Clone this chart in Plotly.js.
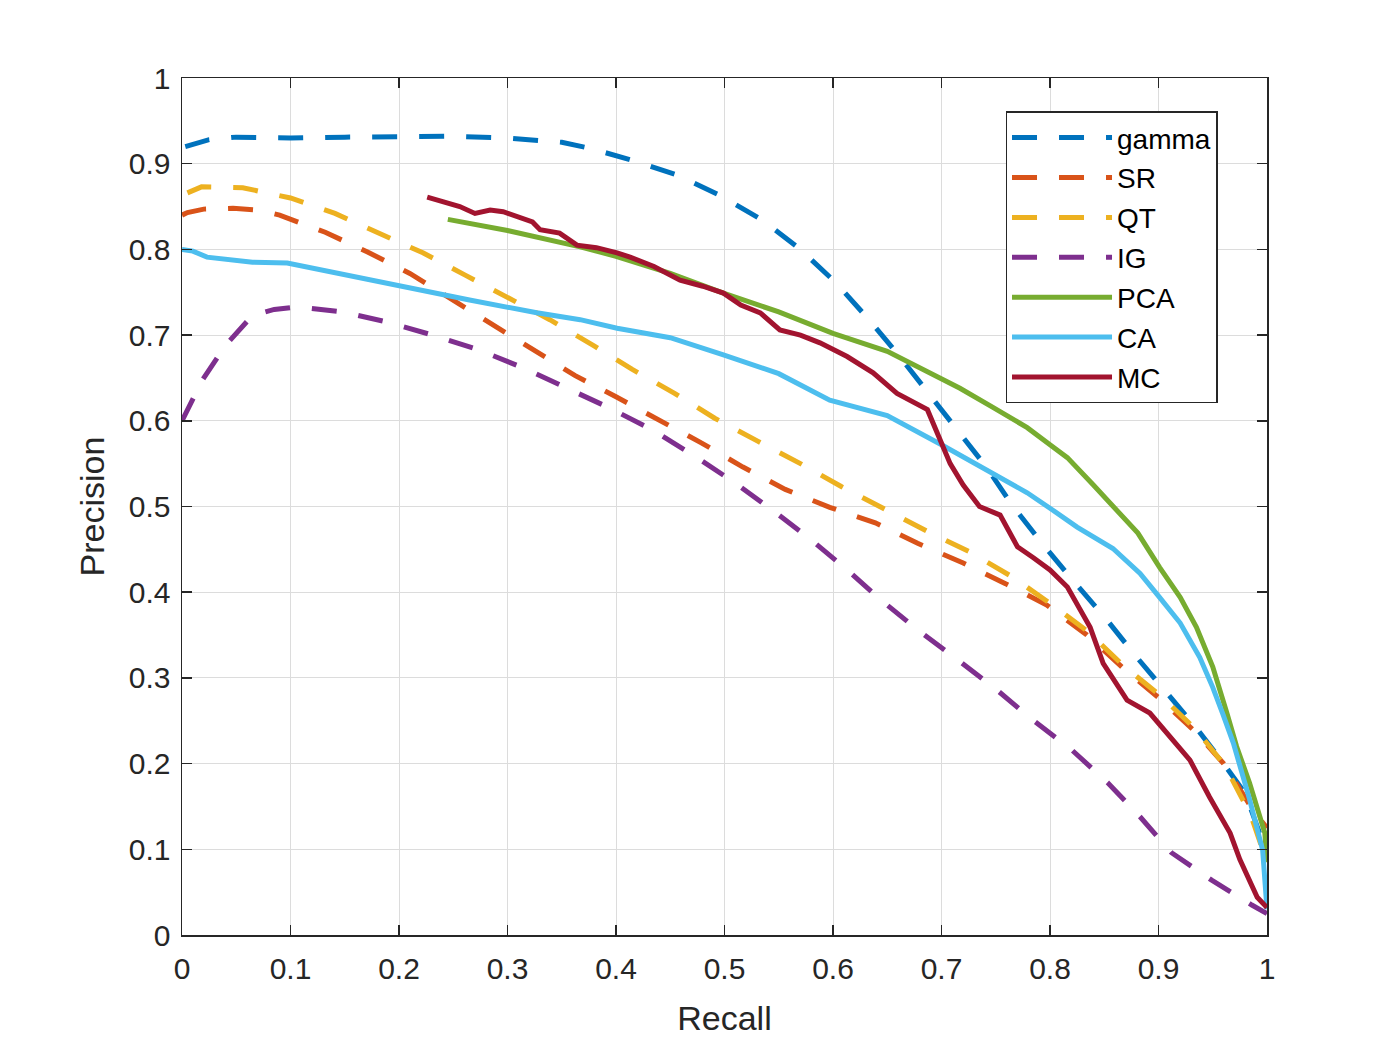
<!DOCTYPE html>
<html>
<head>
<meta charset="utf-8">
<script src="https://cdn.plot.ly/plotly-3.0.1.min.js"></script>
<style>html,body{margin:0;padding:0;background:#fff;}#chart{width:1400px;height:1050px;}</style>
</head>
<body>
<div id="chart"></div>
<script>
// ---- data ----
const seriesNames = ["gamma", "SR", "QT", "IG", "PCA", "CA", "MC"];

const gammaX = [0.003,0.012,0.025,0.05,0.1,0.15,0.2,0.25,0.3,0.35,0.376,0.415,0.456,0.496,0.535,0.568,0.602,0.631,0.659,0.687,0.714,0.742,0.766,0.794,0.821,0.851,0.878,0.906,0.934,0.96,0.98,1.0];
const gammaY = [0.92,0.923,0.928,0.931,0.930,0.931,0.931,0.932,0.930,0.925,0.918,0.904,0.887,0.863,0.834,0.802,0.762,0.721,0.679,0.634,0.589,0.545,0.50,0.455,0.414,0.37,0.327,0.286,0.243,0.2,0.165,0.095];

const srX = [0,0.005,0.02,0.047,0.07,0.09,0.132,0.171,0.21,0.25,0.286,0.323,0.362,0.4,0.44,0.479,0.517,0.556,0.597,0.639,0.678,0.72,0.759,0.797,0.834,0.867,0.9,0.934,0.96,0.989,1.0];
const srY = [0.84,0.843,0.847,0.848,0.846,0.84,0.82,0.797,0.772,0.741,0.712,0.683,0.653,0.628,0.601,0.574,0.546,0.52,0.499,0.481,0.457,0.434,0.41,0.385,0.35,0.312,0.277,0.237,0.2,0.142,0.125];

const qtX = [0.005,0.018,0.056,0.1,0.141,0.181,0.222,0.261,0.3,0.339,0.379,0.415,0.454,0.491,0.531,0.57,0.608,0.648,0.687,0.726,0.765,0.8,0.835,0.867,0.903,0.935,0.961,0.985,1.0];
const qtY = [0.866,0.873,0.872,0.86,0.842,0.819,0.796,0.77,0.744,0.718,0.688,0.66,0.632,0.603,0.576,0.55,0.523,0.496,0.471,0.447,0.418,0.387,0.354,0.315,0.278,0.239,0.198,0.14,0.085];

const igX = [0,0.005,0.019,0.04,0.065,0.085,0.107,0.148,0.19,0.231,0.273,0.314,0.355,0.394,0.434,0.471,0.508,0.544,0.579,0.613,0.646,0.68,0.715,0.75,0.784,0.82,0.853,0.883,0.912,0.949,0.986,1.0];
const igY = [0.6,0.613,0.648,0.688,0.723,0.73,0.733,0.727,0.715,0.7,0.683,0.662,0.638,0.615,0.589,0.56,0.529,0.496,0.462,0.426,0.389,0.354,0.321,0.287,0.251,0.216,0.178,0.138,0.096,0.064,0.035,0.025];

const pcaX = [0.245,0.3,0.367,0.4,0.45,0.499,0.55,0.6,0.65,0.7,0.717,0.747,0.779,0.8,0.816,0.84,0.862,0.881,0.901,0.92,0.935,0.95,0.963,0.972,0.984,0.998,1.0];
const pcaY = [0.835,0.822,0.803,0.792,0.772,0.749,0.727,0.702,0.681,0.648,0.638,0.616,0.592,0.572,0.557,0.525,0.496,0.469,0.429,0.394,0.359,0.313,0.259,0.22,0.177,0.119,0.085];

const caX = [0,0.01,0.023,0.065,0.097,0.143,0.204,0.265,0.327,0.367,0.401,0.45,0.499,0.55,0.597,0.65,0.7,0.717,0.747,0.779,0.8,0.825,0.858,0.883,0.901,0.92,0.938,0.95,0.959,0.969,0.984,0.996,1.0];
const caY = [0.8,0.798,0.791,0.785,0.784,0.772,0.756,0.741,0.726,0.718,0.708,0.697,0.677,0.655,0.624,0.606,0.572,0.56,0.54,0.516,0.498,0.476,0.451,0.422,0.394,0.364,0.324,0.289,0.259,0.224,0.158,0.099,0.03];

const mcX = [0.226,0.244,0.256,0.27,0.284,0.296,0.309,0.323,0.33,0.348,0.364,0.382,0.401,0.413,0.435,0.459,0.48,0.499,0.515,0.533,0.551,0.57,0.588,0.613,0.637,0.659,0.687,0.699,0.708,0.72,0.735,0.754,0.77,0.785,0.8,0.816,0.837,0.849,0.871,0.892,0.908,0.929,0.947,0.966,0.975,0.984,0.991,1.0];
const mcY = [0.861,0.854,0.85,0.842,0.846,0.844,0.838,0.832,0.823,0.819,0.805,0.802,0.796,0.791,0.78,0.764,0.757,0.749,0.735,0.726,0.706,0.7,0.691,0.675,0.656,0.632,0.613,0.578,0.55,0.525,0.5,0.49,0.453,0.44,0.426,0.406,0.359,0.317,0.274,0.259,0.236,0.204,0.161,0.119,0.088,0.064,0.044,0.032];

const xTickVals = [0,0.1,0.2,0.3,0.4,0.5,0.6,0.7,0.8,0.9,1];
const xTickText = ["0","0.1","0.2","0.3","0.4","0.5","0.6","0.7","0.8","0.9","1"];
const yTickVals = [0,0.1,0.2,0.3,0.4,0.5,0.6,0.7,0.8,0.9,1];
const yTickText = ["0","0.1","0.2","0.3","0.4","0.5","0.6","0.7","0.8","0.9","1"];

// ---- styling ----
const colors = ["#0072BD","#D95319","#EDB120","#7E2F8E","#77AC30","#4DBEEE","#A2142F"];
const dashes = ["25px,22px","25px,22px","25px,22px","25px,22px","solid","solid","solid"];
const xs = [gammaX, srX, qtX, igX, pcaX, caX, mcX];
const ys = [gammaY, srY, qtY, igY, pcaY, caY, mcY];

const traces = seriesNames.map((n, i) => ({
  type: "scatter", mode: "lines", name: n, legendgroup: "g" + i,
  x: xs[i], y: ys[i],
  line: { color: colors[i], width: 5, dash: dashes[i] }
}));

const FONT = "Liberation Sans, Arial, Helvetica, sans-serif";
const axisCommon = {
  range: [0, 1], showline: true, linecolor: "#262626", linewidth: 1.5, mirror: "ticks",
  ticks: "inside", ticklen: 10, tickwidth: 1.5, tickcolor: "#262626",
  showgrid: true, gridcolor: "#dcdcdc", gridwidth: 1, zeroline: false,
  tickfont: { family: FONT, size: 30, color: "#262626" }
};

const layout = {
  width: 1400, height: 1050,
  margin: { l: 182, r: 133, t: 78, b: 115 },
  paper_bgcolor: "#ffffff", plot_bgcolor: "#ffffff",
  font: { family: FONT, color: "#262626" },
  xaxis: Object.assign({}, axisCommon, {
    tickvals: xTickVals, ticktext: xTickText, ticklabelstandoff: 6,
    title: { text: "Recall", font: { family: FONT, size: 34, color: "#262626" }, standoff: 22 }
  }),
  yaxis: Object.assign({}, axisCommon, {
    tickvals: yTickVals, ticktext: yTickText, ticklabelstandoff: 4,
    title: { text: "Precision", font: { family: FONT, size: 34, color: "#262626" }, standoff: 14 }
  }),
  showlegend: true,
  legend: {
    x: 0.759, y: 0.961, xanchor: "left", yanchor: "top",
    bgcolor: "#ffffff", bordercolor: "#262626", borderwidth: 1.5,
    font: { family: FONT, size: 28, color: "#000000" },
    itemwidth: 100, tracegroupgap: 0.5
  }
};

Plotly.newPlot("chart", traces, layout, { displayModeBar: false, staticPlot: true });
</script>
</body>
</html>
